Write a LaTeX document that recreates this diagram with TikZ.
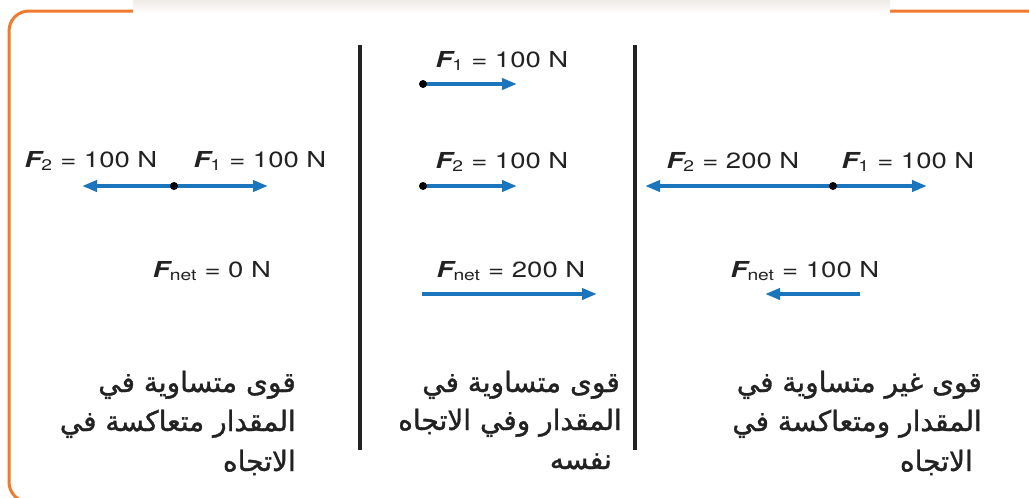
\documentclass[tikz,border=0pt]{standalone}
\usepackage{fontspec}
\setmainfont{TeX Gyre Heros}
\newfontfamily\lblfont[FakeStretch=1.25]{TeX Gyre Heros}
\newfontfamily\arabicfont[Script=Arabic,FakeBold=1.2]{DejaVu Sans}
\TeXXeTstate=1
\usetikzlibrary{arrows.meta}
\definecolor{frameorange}{HTML}{F07A2E}
\definecolor{forceblue}{HTML}{1B75BC}
\definecolor{bandgray}{HTML}{EEEAE6}
\definecolor{inkgray}{HTML}{222222}
\newcommand{\flabel}[2]{{\bfseries\itshape F}\textsubscript{#1} = #2 N}
\newcommand{\fnetlabel}[1]{{\bfseries\itshape F}\textsubscript{net} = #1 N}
\begin{document}
\begin{tikzpicture}[x=1pt,y=-1pt,
  force/.style={forceblue, line width=4pt, -{Triangle[length=15pt,width=11pt]}},
  dotnode/.style={circle, fill=black, inner sep=0pt, minimum size=8pt},
  lbl/.style={anchor=base, inner sep=0pt, text=inkgray, font=\lblfont\fontsize{22}{25}\selectfont},
  divider/.style={line width=4pt, inkgray},
  caption/.style={anchor=base east, inner sep=0pt, text=inkgray, font=\arabicfont\fontsize{28}{30}\selectfont}]
\clip (0,0) rectangle (1029,498);
\fill[white] (0,0) rectangle (1029,498);
\draw[frameorange, line width=3pt, rounded corners=20pt] (9,11) rectangle (1046,502);
\shade[top color=bandgray, bottom color=white] (133,0) rectangle (890,13);
% dividers
\coordinate (v1t) at (360,45); \coordinate (v1b) at (360,450);
\coordinate (v2t) at (635,45); \coordinate (v2b) at (635,450);
\draw[divider] (v1t) -- (v1b);
\draw[divider] (v2t) -- (v2b);
% panel 1
\node[lbl] (f2a) at (91,167) {\flabel{2}{100}};
\node[lbl] (f1a) at (260,167) {\flabel{1}{100}};
\coordinate (o1) at (174,186);
\coordinate (t1l) at (82,186);
\coordinate (t1r) at (268,186);
\draw[force] (o1) -- (t1l);
\draw[force] (o1) -- (t1r);
\node[dotnode] (d1) at (o1) {};
\node[lbl] (fna) at (212,277) {\fnetlabel{0}};
% panel 2
\node[lbl] (f1b) at (502,67) {\flabel{1}{100}};
\coordinate (o2a) at (423,84);
\coordinate (t2a) at (517,84);
\draw[force] (o2a) -- (t2a);
\node[dotnode] (d2a) at (o2a) {};
\node[lbl] (f2b) at (502,168) {\flabel{2}{100}};
\coordinate (o2b) at (423,186);
\coordinate (t2b) at (517,186);
\draw[force] (o2b) -- (t2b);
\node[dotnode] (d2b) at (o2b) {};
\node[lbl] (fnb) at (511,277) {\fnetlabel{200}};
\coordinate (s2n) at (422,294);
\coordinate (t2n) at (597,294);
\draw[force] (s2n) -- (t2n);
% panel 3
\node[lbl] (f2c) at (733,168) {\flabel{2}{200}};
\node[lbl] (f1c) at (908,168) {\flabel{1}{100}};
\coordinate (o3) at (833,186);
\coordinate (t3l) at (645,186);
\coordinate (t3r) at (927,186);
\draw[force] (o3) -- (t3l);
\draw[force] (o3) -- (t3r);
\node[dotnode] (d3) at (o3) {};
\node[lbl] (fnc) at (805,277) {\fnetlabel{100}};
\coordinate (s3n) at (860,294);
\coordinate (t3n) at (765,294);
\draw[force] (s3n) -- (t3n);
% captions
\node[caption] (c1a) at (296,392) {\beginR قوى متساوية في\endR};
\node[caption] (c1b) at (296,431) {\beginR المقدار متعاكسة في\endR};
\node[caption] (c1c) at (296,471) {\beginR الاتجاه\endR};
\node[caption] (c2a) at (620,392) {\beginR قوى متساوية في\endR};
\node[caption] (c2b) at (622,430) {\beginR المقدار وفي الاتجاه\endR};
\node[caption] (c2c) at (612,469) {\beginR نفسه\endR};
\node[caption] (c3a) at (982,392) {\beginR قوى غير متساوية في\endR};
\node[caption] (c3b) at (982,431) {\beginR المقدار ومتعاكسة في\endR};
\node[caption] (c3c) at (973,471) {\beginR الاتجاه\endR};
\end{tikzpicture}
\end{document}
